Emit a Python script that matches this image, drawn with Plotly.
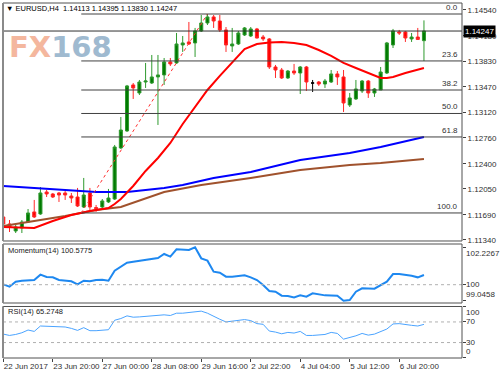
import plotly.graph_objects as go

# ---------------- data ----------------
bar_index = list(range(69))
opens = [1.11660,1.11563,1.11465,1.11507,1.11590,1.11730,1.11702,1.12008,1.11980,1.11994,
         1.11994,1.11952,1.11938,1.11799,1.11994,1.11792,1.11799,1.11869,1.11910,1.12620,
         1.12857,1.13497,1.13385,1.13538,1.13524,1.13608,1.13636,1.13817,1.13803,1.14053,
         1.14095,1.14081,1.14248,1.14359,1.14443,1.14387,1.14262,1.14039,1.14067,1.14192,
         1.14178,1.14276,1.14164,1.14137,1.13747,1.13705,1.13594,1.13691,1.13663,1.13747,
         1.13524,1.13538,1.13510,1.13538,1.13650,1.13608,1.13218,1.13302,1.13413,1.13552,
         1.13385,1.13427,1.13663,1.14053,1.14234,1.14234,1.14137,1.14164,1.14113]
highs = [1.11730,1.11618,1.11549,1.11618,1.11771,1.11897,1.12077,1.12036,1.11994,1.12008,
         1.12022,1.11994,1.12064,1.12203,1.12064,1.11827,1.11910,1.12050,1.12662,1.13051,
         1.13497,1.13524,1.13566,1.13803,1.13914,1.13914,1.13872,1.13872,1.14220,1.14178,
         1.14373,1.14290,1.14470,1.14484,1.14470,1.14470,1.14303,1.14290,1.14248,1.14303,
         1.14303,1.14290,1.14192,1.14150,1.13775,1.13733,1.13705,1.13789,1.13761,1.13761,
         1.13566,1.13552,1.13580,1.13705,1.13691,1.13705,1.13385,1.13566,1.13566,1.13566,
         1.13455,1.13747,1.14095,1.14276,1.14262,1.14248,1.14220,1.14290,1.14395]
lows = [1.11535,1.11451,1.11437,1.11437,1.11577,1.11646,1.11690,1.11938,1.11924,1.11869,
        1.11897,1.11855,1.11799,1.11785,1.11730,1.11730,1.11785,1.11855,1.11897,1.12606,
        1.12843,1.13302,1.13357,1.13455,1.13510,1.12940,1.13497,1.13761,1.13789,1.13956,
        1.14053,1.13886,1.14234,1.14331,1.14290,1.14234,1.13956,1.13956,1.14053,1.14178,
        1.14164,1.14143,1.14109,1.13719,1.13594,1.13580,1.13580,1.13636,1.13371,1.13413,
        1.13399,1.13483,1.13455,1.13524,1.13497,1.13121,1.13190,1.13288,1.13385,1.13316,
        1.13330,1.13427,1.13650,1.14011,1.14192,1.14095,1.14095,1.14123,1.13830]
closes = [1.11563,1.11521,1.11521,1.11590,1.11716,1.11660,1.11994,1.11980,1.11938,1.11966,
          1.11966,1.11924,1.11813,1.11966,1.11799,1.11778,1.11883,1.11924,1.12634,1.12870,
          1.13483,1.13455,1.13538,1.13552,1.13608,1.13636,1.13817,1.13789,1.14067,1.14081,
          1.14067,1.14248,1.14359,1.14443,1.14387,1.14262,1.14053,1.14067,1.14220,1.14290,
          1.14276,1.14150,1.14137,1.13747,1.13705,1.13594,1.13691,1.13663,1.13747,1.13538,
          1.13524,1.13510,1.13552,1.13650,1.13608,1.13246,1.13316,1.13441,1.13552,1.13385,
          1.13441,1.13677,1.14081,1.14248,1.14220,1.14150,1.14164,1.14130,1.14247]

red_ma_idx = [0,5,8,11,14,17,18,19,21,23,25,27,29,31,33,35,37,39,41,43,45,47,49,51,53,55,57,59,61,62,63,65,67,68]
red_ma_val = [1.11521,1.11507,1.11604,1.11688,1.11744,1.11785,1.11841,1.11910,1.12091,1.12300,
              1.12481,1.12690,1.12954,1.13190,1.13427,1.13622,1.13817,1.13997,1.14067,1.14088,
              1.14095,1.14081,1.14053,1.13983,1.13900,1.13803,1.13733,1.13663,1.13594,1.13594,
              1.13608,1.13663,1.13705,1.13733]
blue_ma_idx = [0,5,10,15,20,26,29,34,40,48,56,61,68]
blue_ma_val = [1.12091,1.12064,1.12036,1.12008,1.12008,1.12064,1.12105,1.12203,1.12286,1.12453,1.12550,1.12634,1.12773]
brown_ma_idx = [0,6,10,15,19,26,32,40,48,56,61,68]
brown_ma_val = [1.11535,1.11618,1.11674,1.11757,1.11799,1.12008,1.12105,1.12203,1.12314,1.12384,1.12411,1.12467]

mom_idx = [0,1,2,3,5,6,7,8,9,11,12,13,14,15,16,17,18,19,20,21,22,24,25,26,27,28,29,30,31,32,33,34,35,36,37,
           39,40,41,42,43,44,45,46,47,48,49,50,51,52,54,55,56,57,58,59,60,62,63,64,66,67,68]
mom_val = [100.020,99.881,100.179,100.239,100.278,100.597,100.457,100.438,100.278,
           100.199,100.020,100.239,100.199,100.278,100.298,100.239,100.835,101.074,101.312,101.372,101.431,
           101.511,101.590,101.829,101.670,102.107,102.107,102.068,102.2267,101.571,101.431,100.775,100.716,100.477,100.477,
           100.557,100.438,100.278,99.980,99.622,99.583,99.344,99.324,99.245,99.364,99.284,99.483,99.444,99.364,
           99.344,99.0458,99.086,99.583,99.781,99.762,99.762,
           100.179,100.636,100.636,100.537,100.438,100.5775]

rsi_idx = [0,1,2,3,4,5,6,7,9,10,11,12,13,14,15,16,17,18,19,20,21,22,24,25,26,27,28,29,31,32,33,34,35,36,37,
           39,40,41,42,43,44,45,46,47,48,49,50,51,52,53,54,55,56,57,58,59,60,62,63,64,66,67,68]
rsi_val = [46.4,43.8,45.7,49.0,54.3,51.6,62.1,61.5,60.8,60.2,57.5,53.6,58.9,53.0,53.0,54.3,54.9,
           73.3,76.6,81.8,79.2,79.8,81.1,82.5,83.8,82.5,87.0,87.0,89.0,91.0,87.0,80.5,75.2,70.0,72.0,
           74.6,72.6,66.7,65.4,52.3,50.3,47.0,49.7,48.4,51.6,43.8,43.8,44.4,45.7,49.7,47.7,36.6,39.2,
           43.1,47.7,44.4,46.4,56.2,66.1,66.7,63.4,62.1,65.27]

price_ticks = [1.14540, 1.14180, 1.13830, 1.13470, 1.13120, 1.12760, 1.12400, 1.12050, 1.11690, 1.11340]
mom_ticks = [102.2267, 100.0, 99.0458]
mom_tick_labels = ["102.2267", "100", "99.0458"]
rsi_ticks = [100, 70, 30, 0]
time_tick_idx = [0, 8, 16, 24, 32, 40, 48, 56, 64]
time_tick_labels = ["22 Jun 2017", "23 Jun 20:00", "27 Jun 00:00", "28 Jun 08:00", "29 Jun 16:00",
                    "2 Jul 22:00", "4 Jul 04:00", "5 Jul 12:00", "6 Jul 20:00"]
fib_ratios = [0.0, 23.6, 38.2, 50.0, 61.8, 100.0]
fib_high = 1.14484
fib_low = 1.11716
fib_low_idx = 12.6
fib_high_idx = 33
last_price = 1.14247
title_text = "EURUSD,H4  1.14113 1.14395 1.13830 1.14247"
mom_title = "Momentum(14) 100.5775"
rsi_title = "RSI(14) 65.2748"

# ---------------- layout geometry ----------------
X_RANGE = [-0.05, 74.15]
MAIN_DOM = [0.3296, 1.0]
MOM_DOM = [0.1549, 0.3211]
RSI_DOM = [0.0, 0.1451]
FONT = "Liberation Sans"
AXC = "#404040"

fig = go.Figure()

doji = [o == c for o, c in zip(opens, closes)]
norm = [not d for d in doji]

def pick(arr, mask):
    return [v for v, m in zip(arr, mask) if m]

fig.add_trace(go.Candlestick(
    x=pick(bar_index, norm), open=pick(opens, norm), high=pick(highs, norm),
    low=pick(lows, norm), close=pick(closes, norm),
    increasing=dict(line=dict(color="#2f9a2f", width=1), fillcolor="#007a00"),
    decreasing=dict(line=dict(color="#ff2a2a", width=1), fillcolor="#ff0000"),
    xaxis="x", yaxis="y", showlegend=False, hoverinfo="skip"))
fig.add_trace(go.Candlestick(
    x=pick(bar_index, doji), open=pick(opens, doji), high=pick(highs, doji),
    low=pick(lows, doji), close=pick(closes, doji),
    increasing=dict(line=dict(color="#000000", width=1), fillcolor="#000000"),
    decreasing=dict(line=dict(color="#000000", width=1), fillcolor="#000000"),
    xaxis="x", yaxis="y", showlegend=False, hoverinfo="skip"))

fig.add_trace(go.Scatter(x=brown_ma_idx, y=brown_ma_val, mode="lines",
                         line=dict(color="#a0522d", width=2), xaxis="x", yaxis="y"))
fig.add_trace(go.Scatter(x=blue_ma_idx, y=blue_ma_val, mode="lines",
                         line=dict(color="#0000ff", width=2), xaxis="x", yaxis="y"))
fig.add_trace(go.Scatter(x=red_ma_idx, y=red_ma_val, mode="lines",
                         line=dict(color="#ff0000", width=2), xaxis="x", yaxis="y"))
# fibonacci trend line
fig.add_trace(go.Scatter(x=[fib_low_idx, fib_high_idx], y=[fib_low, fib_high], mode="lines",
                         line=dict(color="#ff3030", width=1, dash="dot"), xaxis="x", yaxis="y"))

fig.add_trace(go.Scatter(x=mom_idx, y=mom_val, mode="lines",
                         line=dict(color="#1e88f0", width=2), xaxis="x2", yaxis="y2"))
fig.add_trace(go.Scatter(x=rsi_idx, y=rsi_val, mode="lines",
                         line=dict(color="#4aa3ff", width=1), xaxis="x3", yaxis="y3"))

shapes = []
annotations = []
# fib levels
for r in fib_ratios:
    lvl = fib_high - r / 100.0 * (fib_high - fib_low)
    shapes.append(dict(type="line", xref="x", yref="y", x0=fib_low_idx, x1=X_RANGE[1],
                       y0=lvl, y1=lvl, line=dict(color="#404040", width=1)))
    annotations.append(dict(xref="x", yref="y", x=X_RANGE[1], y=lvl, text=f"{r:.1f}",
                            xanchor="right", yanchor="bottom", xshift=-2, showarrow=False,
                            font=dict(family=FONT, size=8, color="#303030")))
# current price line
shapes.append(dict(type="line", xref="x", yref="y", x0=X_RANGE[0], x1=X_RANGE[1],
                   y0=last_price, y1=last_price, line=dict(color="#303030", width=1)))
# indicator level lines
shapes.append(dict(type="line", xref="x2", yref="y2", x0=X_RANGE[0], x1=X_RANGE[1],
                   y0=100, y1=100, line=dict(color="#b0b0b0", width=1, dash="dot")))
for lv in (70, 30):
    shapes.append(dict(type="line", xref="x3", yref="y3", x0=X_RANGE[0], x1=X_RANGE[1],
                       y0=lv, y1=lv, line=dict(color="#b0b0b0", width=1, dash="dot")))
# panel frames
for dom in (MAIN_DOM, MOM_DOM, RSI_DOM):
    shapes.append(dict(type="rect", xref="paper", yref="paper", x0=0, x1=1, y0=dom[0], y1=dom[1],
                       line=dict(color="#505050", width=1), layer="above"))
    shapes.append(dict(type="line", xref="paper", yref="paper", x0=0, x1=0, y0=dom[0], y1=dom[1],
                       line=dict(color="#8a8a8a", width=2), layer="above"))

# title / watermark
annotations.append(dict(xref="paper", yref="paper", x=0.003, y=0.9859, xanchor="left", yanchor="middle",
                        text="▼ " + title_text, showarrow=False,
                        font=dict(family=FONT, size=7.5, color="#000000")))
annotations.append(dict(xref="paper", yref="paper", x=0.009, y=0.876, xanchor="left", yanchor="middle",
                        text="<b><span style='color:#f4b79e'>FX</span><span style='color:#9fbad0'>168</span></b>",
                        showarrow=False, font=dict(family="DejaVu Sans", size=29)))
# last price box
annotations.append(dict(xref="paper", yref="y", x=1, y=last_price, xanchor="left", yanchor="middle",
                        xshift=1, text="1.14247", showarrow=False, bgcolor="#000000", borderpad=1,
                        font=dict(family=FONT, size=8, color="#ffffff")))
# indicator titles
annotations.append(dict(xref="paper", yref="paper", x=0.006, y=0.3042, xanchor="left", yanchor="middle",
                        text=mom_title, showarrow=False, font=dict(family=FONT, size=7.5, color="#202020")))
annotations.append(dict(xref="paper", yref="paper", x=0.006, y=0.1296, xanchor="left", yanchor="middle",
                        text=rsi_title, showarrow=False, font=dict(family=FONT, size=7.5, color="#202020")))
# indicator axis labels
mom_label_anchor = ["top", "middle", "bottom"]
for v, t, a in zip(mom_ticks, mom_tick_labels, mom_label_anchor):
    annotations.append(dict(xref="paper", yref="y2", x=1, y=v, xanchor="left", yanchor=a, xshift=2,
                            text=t, showarrow=False, font=dict(family=FONT, size=8, color="#303030")))
rsi_label_anchor = ["top", "middle", "middle", "bottom"]
for v, a in zip(rsi_ticks, rsi_label_anchor):
    annotations.append(dict(xref="paper", yref="y3", x=1, y=v, xanchor="left", yanchor=a, xshift=2,
                            text=str(v), showarrow=False, font=dict(family=FONT, size=8, color="#303030")))

common_x = dict(range=X_RANGE, showgrid=False, zeroline=False, showline=False, fixedrange=True)
common_y = dict(showgrid=False, zeroline=False, showline=False, side="right", ticks="outside",
                ticklen=3, tickcolor=AXC, tickfont=dict(family=FONT, size=8, color="#303030"))

fig.update_layout(
    width=500, height=375, margin=dict(l=3, r=34, t=3, b=17),
    paper_bgcolor="white", plot_bgcolor="white", showlegend=False,
    xaxis=dict(domain=[0, 1], anchor="y", showticklabels=False, rangeslider=dict(visible=False), **common_x),
    xaxis2=dict(domain=[0, 1], anchor="y2", showticklabels=False, **common_x),
    xaxis3=dict(domain=[0, 1], anchor="y3", tickvals=time_tick_idx, ticktext=time_tick_labels,
                ticks="outside", ticklen=3, tickcolor=AXC, ticklabelposition="outside right",
                tickangle=0, tickfont=dict(family=FONT, size=8, color="#303030"), **common_x),
    yaxis=dict(domain=MAIN_DOM, anchor="x", range=[1.11326, 1.14637], tickvals=price_ticks,
               ticktext=[f"{p:.5f}" for p in price_ticks], **common_y),
    yaxis2=dict(domain=MOM_DOM, anchor="x2", range=[98.909, 102.423], tickvals=mom_ticks,
                showticklabels=False, **common_y),
    yaxis3=dict(domain=RSI_DOM, anchor="x3", range=[0, 100], tickvals=rsi_ticks,
                showticklabels=False, **common_y),
    shapes=shapes, annotations=annotations,
)

fig.write_html("out.html")
